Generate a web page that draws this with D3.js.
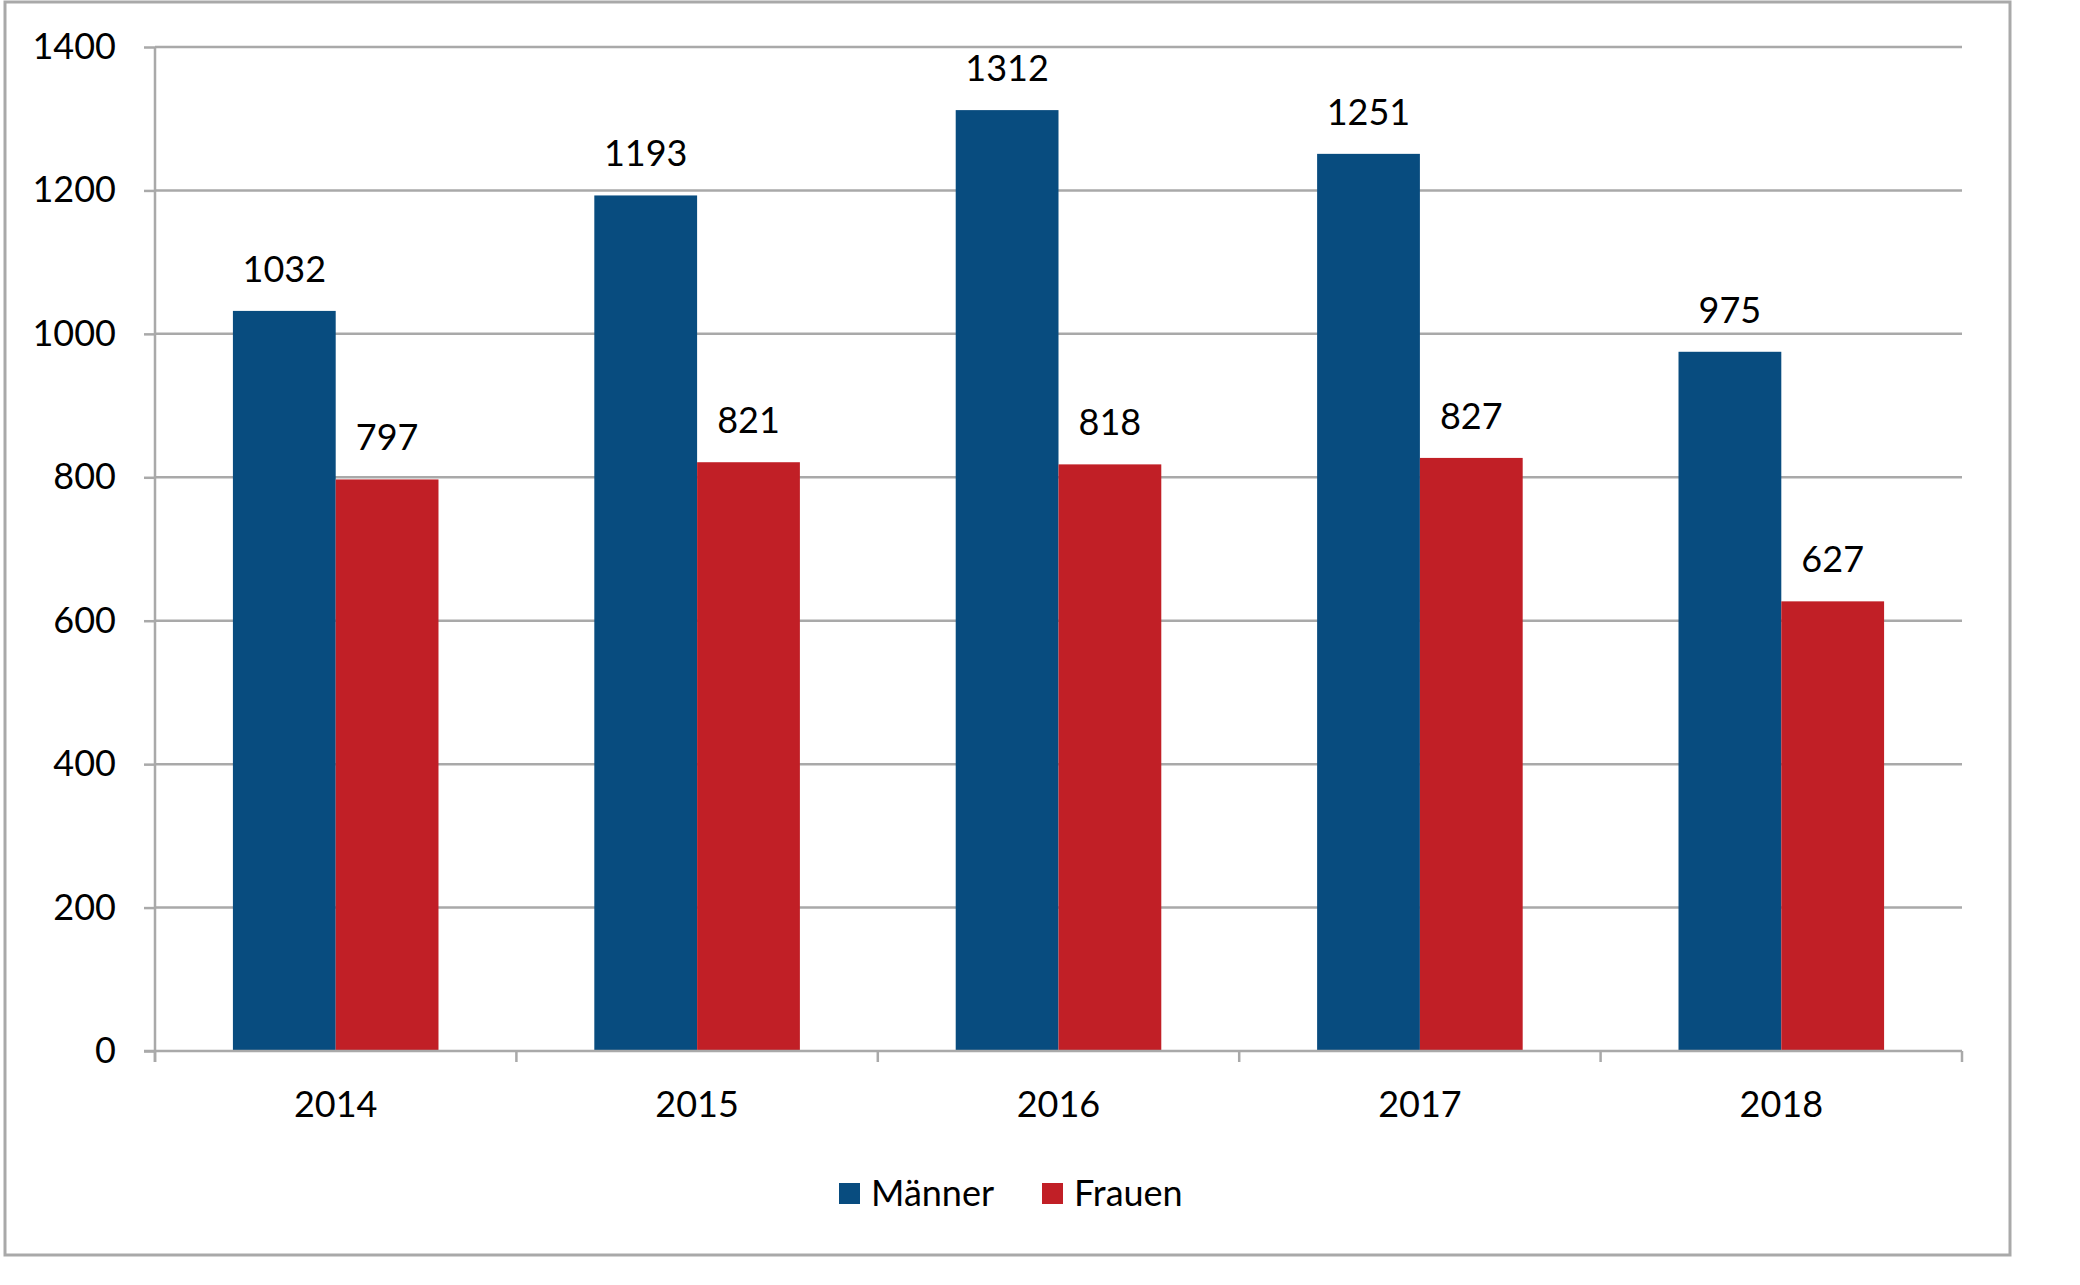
<!DOCTYPE html>
<html>
<head>
<meta charset="utf-8">
<script src="https://cdn.jsdelivr.net/npm/d3@7"></script>
<style>
  body { margin: 0; background: #fff; }
  text { font-family: Lato, "Open Sans", sans-serif; fill: #000; }
</style>
</head>
<body>
<div id="chart"></div>
<script>
const years = ['2014', '2015', '2016', '2017', '2018'];
const seriesNames = ['Männer', 'Frauen'];
const maenner = [1032, 1193, 1312, 1251, 975];
const frauen = [797, 821, 818, 827, 627];
const yTicks = [0, 200, 400, 600, 800, 1000, 1200, 1400];
const colors = ['#084c7f', '#c11f26'];

const width = 2080, height = 1285;
const plot = { left: 155, right: 1962, top: 47, bottom: 1051 };
const fontSize = 36;
const gridColor = '#a9a9a9';

const svg = d3.select('#chart')
  .append('svg')
  .attr('width', width)
  .attr('height', height);

// outer frame
svg.append('rect')
  .attr('x', 5).attr('y', 2)
  .attr('width', 2005).attr('height', 1253)
  .attr('fill', '#fff')
  .attr('stroke', '#a9a9a9')
  .attr('stroke-width', 3);

const x0 = d3.scaleBand()
  .domain(years)
  .range([plot.left, plot.right])
  .padding(0);

const x1 = d3.scaleBand()
  .domain(seriesNames)
  .range([0, x0.bandwidth()])
  .paddingInner(0)
  .paddingOuter(0.758);

const y = d3.scaleLinear()
  .domain([0, 1400])
  .range([plot.bottom, plot.top]);

// gridlines
svg.append('g')
  .selectAll('line')
  .data(yTicks.filter(d => d > 0))
  .join('line')
  .attr('x1', plot.left).attr('x2', plot.right)
  .attr('y1', d => y(d)).attr('y2', d => y(d))
  .attr('stroke', gridColor)
  .attr('stroke-width', 2.5);

// bars
const rows = years.map((yr, i) => ({ year: yr, values: [maenner[i], frauen[i]] }));

const groups = svg.append('g')
  .selectAll('g')
  .data(rows)
  .join('g')
  .attr('transform', d => `translate(${x0(d.year)},0)`);

groups.selectAll('rect')
  .data(d => d.values.map((v, j) => ({ name: seriesNames[j], value: v, idx: j })))
  .join('rect')
  .attr('x', d => x1(d.name))
  .attr('width', x1.bandwidth())
  .attr('y', d => y(d.value))
  .attr('height', d => y(0) - y(d.value))
  .attr('fill', d => colors[d.idx]);

groups.selectAll('text')
  .data(d => d.values.map((v, j) => ({ name: seriesNames[j], value: v })))
  .join('text')
  .attr('x', d => x1(d.name) + x1.bandwidth() / 2)
  .attr('y', d => y(d.value) - 29)
  .attr('text-anchor', 'middle')
  .attr('font-size', fontSize)
  .text(d => d.value);

// y axis
const yAxis = svg.append('g')
  .attr('transform', `translate(${plot.left},0)`)
  .call(d3.axisLeft(y).tickValues(yTicks).tickSize(11).tickPadding(28).tickFormat(d3.format('d')));
yAxis.select('.domain').attr('stroke', gridColor).attr('stroke-width', 2.5)
  .attr('d', `M0,${plot.top}V${plot.bottom + 11}`);
yAxis.selectAll('.tick line').attr('stroke', gridColor).attr('stroke-width', 2.5);
yAxis.selectAll('.tick text').attr('font-size', fontSize).attr('fill', '#000')
  .attr('font-family', 'Lato, "Open Sans", sans-serif');

// x axis baseline + ticks at band edges
const xAxis = svg.append('g');
xAxis.append('line')
  .attr('x1', plot.left - 11).attr('x2', plot.right)
  .attr('y1', plot.bottom).attr('y2', plot.bottom)
  .attr('stroke', gridColor).attr('stroke-width', 2.5);
const edges = years.map(yr => x0(yr)).concat([plot.right]);
xAxis.selectAll('line.tk')
  .data(edges)
  .join('line')
  .attr('class', 'tk')
  .attr('x1', d => d).attr('x2', d => d)
  .attr('y1', plot.bottom).attr('y2', plot.bottom + 11)
  .attr('stroke', gridColor).attr('stroke-width', 2.5);
xAxis.selectAll('text')
  .data(years)
  .join('text')
  .attr('x', d => x0(d) + x0.bandwidth() / 2)
  .attr('y', 1117)
  .attr('text-anchor', 'middle')
  .attr('font-size', fontSize)
  .text(d => d);

// legend
const legendItems = [
  { name: seriesNames[0], color: colors[0], x: 839 },
  { name: seriesNames[1], color: colors[1], x: 1042 }
];
const legend = svg.append('g');
legend.selectAll('rect')
  .data(legendItems)
  .join('rect')
  .attr('x', d => d.x).attr('y', 1183)
  .attr('width', 21).attr('height', 21)
  .attr('fill', d => d.color);
legend.selectAll('text')
  .data(legendItems)
  .join('text')
  .attr('x', d => d.x + 32)
  .attr('y', 1206)
  .attr('font-size', fontSize)
  .text(d => d.name);
</script>
</body>
</html>
